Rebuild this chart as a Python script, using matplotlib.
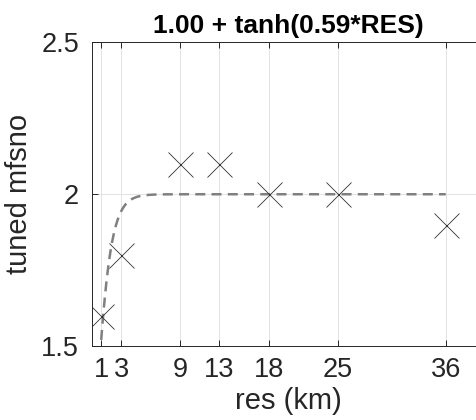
import numpy as np
import matplotlib.pyplot as plt

# data
res = [1, 3, 9, 13, 18, 25, 36]
mfsno = [1.6, 1.8, 2.1, 2.1, 2.0, 2.0, 1.9]
xticks = [1, 3, 9, 13, 18, 25, 36]
yticks = [1.5, 2, 2.5]
a_fit = 0.59

plt.rcParams['font.family'] = ['Liberation Sans', 'DejaVu Sans']

fig = plt.figure(figsize=(4.77, 4.2), dpi=100)
ax = fig.add_axes([0.192, 0.176, 0.825, 0.723])

xx = np.linspace(0, 36, 400)
ax.plot(xx, 1.0 + np.tanh(a_fit * xx), '--', color='#808080', lw=1.8,
        dashes=(4, 2.5))
ax.plot(res, mfsno, 'x', color='#333333', markersize=18, mew=0.6)

ax.set_xlim(0, 40)
ax.set_ylim(1.5, 2.5)
ax.set_xticks(xticks)
ax.set_xticklabels([str(v) for v in xticks])
ax.set_yticks(yticks)
ax.set_yticklabels(['1.5', '2', '2.5'])
ax.grid(True, color='#e3e3e3', lw=0.7)
ax.set_axisbelow(True)
for s in ax.spines.values():
    s.set_color('#262626')
    s.set_linewidth(0.7)
ax.tick_params(direction='in', length=4, width=0.7, labelsize=19.5,
               colors='#262626', top=True, right=True, pad=8)
ax.tick_params(axis='y', pad=9)
ax.set_xlabel('res (km)', fontsize=21, color='#262626', labelpad=3)
ax.set_ylabel('tuned mfsno', fontsize=21, color='#262626', labelpad=6)
ax.set_title('1.00 + tanh(0.59*RES)', fontsize=19, fontweight='bold', pad=7)

fig.savefig('out.png', dpi=100)
